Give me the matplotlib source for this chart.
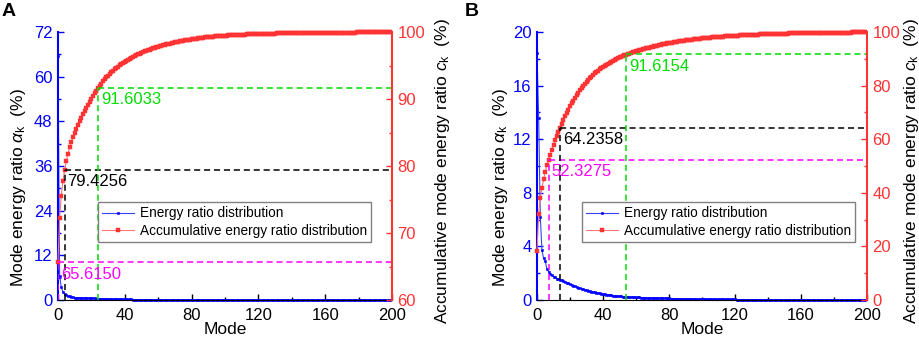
import numpy as np
import matplotlib
matplotlib.use('Agg')
import matplotlib.pyplot as plt
from matplotlib.ticker import MultipleLocator

plt.rcParams['font.family'] = ['Liberation Sans', 'DejaVu Sans']
plt.rcParams['mathtext.fontset'] = 'custom'
plt.rcParams['mathtext.rm'] = 'Liberation Sans'
plt.rcParams['mathtext.it'] = 'Liberation Sans:italic'

BLUE = '#0000FF'
RED = '#FF3333'

mode = np.arange(200)

# panel A: energy ratio of each mode (%)
ratio_a = [
    65.615, 6.585, 3.4, 2.2, 1.6256,
    1.3, 1.1, 0.95, 0.8, 0.72, 0.66,
    0.60, 0.57, 0.55, 0.53, 0.51, 0.49, 0.47, 0.46, 0.44, 0.43, 0.42, 0.41, 0.40, 0.3677,
    0.36, 0.34, 0.32, 0.30, 0.29, 0.27, 0.26, 0.24, 0.23, 0.22, 0.21, 0.20, 0.19, 0.18,
    0.175, 0.17, 0.16, 0.155, 0.15, 0.14, 0.135, 0.13, 0.125, 0.12,
    0.115, 0.11, 0.105, 0.10, 0.097, 0.094, 0.09, 0.087, 0.084, 0.08,
    0.078, 0.076, 0.074, 0.072, 0.07, 0.068, 0.066, 0.064, 0.062, 0.06,
    0.058, 0.056, 0.055, 0.053, 0.052, 0.05, 0.049, 0.047, 0.046, 0.045,
    0.043, 0.041, 0.039, 0.037, 0.036, 0.034, 0.033, 0.031, 0.030, 0.029,
    0.028, 0.027, 0.026, 0.025, 0.024, 0.023, 0.022, 0.021, 0.020, 0.019,
    0.019, 0.018, 0.017, 0.017, 0.016, 0.015, 0.015, 0.014, 0.014, 0.013,
    0.013, 0.012, 0.012, 0.011, 0.011, 0.011, 0.010, 0.010, 0.010, 0.009,
    0.0085, 0.0082, 0.0079, 0.0076, 0.0073, 0.007, 0.0068, 0.0066, 0.0064, 0.0062, 0.006,
    0.0058, 0.0056, 0.0054, 0.0052, 0.005, 0.0049, 0.0048, 0.0047, 0.0046, 0.0045, 0.0044,
    0.0043, 0.0042, 0.0041, 0.004, 0.0039, 0.0038, 0.0037, 0.0036, 0.0035, 0.0034,
    0.0033, 0.0032, 0.0031, 0.003, 0.003, 0.0029, 0.0028, 0.0028, 0.0027, 0.0026,
    0.0026, 0.0025, 0.0024, 0.0024, 0.0023, 0.0023, 0.0022, 0.0022, 0.0021, 0.0021,
    0.0019, 0.0018, 0.0018, 0.0017, 0.0017, 0.0016, 0.0016, 0.0016, 0.0015, 0.0015,
    0.0015, 0.0014, 0.0014, 0.0014, 0.0013, 0.0013, 0.0013, 0.0013, 0.0012, 0.0012,
    0.0012, 0.0012, 0.0011, 0.0011, 0.0011, 0.0011, 0.001, 0.001, 0.001,
]

# panel B: energy ratio of each mode (%)
ratio_b = [
    18.4, 13.6, 6.2, 3.7, 3.1, 2.9, 2.3, 2.1275,
    1.95, 1.85, 1.75, 1.7, 1.6, 1.55, 1.5083,
    1.500, 1.430, 1.362, 1.298, 1.237, 1.179, 1.124, 1.071, 1.021, 0.973,
    0.927, 0.883, 0.842, 0.802, 0.765, 0.729, 0.694, 0.662, 0.631, 0.601,
    0.573, 0.546, 0.520, 0.496, 0.472, 0.450, 0.429, 0.409, 0.390, 0.371,
    0.354, 0.337, 0.321, 0.306, 0.292, 0.278, 0.265, 0.253, 0.241, 0.229,
    0.230, 0.224, 0.218, 0.212, 0.206, 0.201, 0.195, 0.190, 0.185, 0.180,
    0.175, 0.170, 0.166, 0.161, 0.157, 0.153, 0.148, 0.144, 0.141, 0.137,
    0.133, 0.129, 0.126, 0.123, 0.119, 0.116, 0.113, 0.110, 0.107, 0.104,
    0.101, 0.098, 0.096, 0.093, 0.091, 0.088, 0.086, 0.084, 0.081, 0.079,
    0.077, 0.075, 0.073, 0.071, 0.069, 0.067, 0.065, 0.064, 0.062, 0.060,
    0.059, 0.057, 0.055, 0.054, 0.052, 0.051, 0.050, 0.048, 0.047, 0.046,
    0.045, 0.043, 0.042, 0.041, 0.040, 0.039, 0.038, 0.037, 0.036, 0.035,
    0.034, 0.033, 0.032, 0.031, 0.030, 0.030, 0.029, 0.028, 0.027, 0.027,
    0.026, 0.025, 0.024, 0.024, 0.023, 0.023, 0.022, 0.021, 0.021, 0.020,
    0.020, 0.019, 0.019, 0.018, 0.018, 0.017, 0.017, 0.016, 0.016, 0.015,
    0.015, 0.015, 0.014, 0.014, 0.013, 0.013, 0.013, 0.012, 0.012, 0.012,
    0.011, 0.011, 0.011, 0.010, 0.010, 0.010, 0.010, 0.009, 0.009, 0.009,
    0.009, 0.008, 0.008, 0.008, 0.008, 0.008, 0.007, 0.007, 0.007, 0.007,
    0.007, 0.006, 0.006, 0.006, 0.006, 0.006, 0.006, 0.005, 0.005, 0.005,
    0.005, 0.005, 0.005, 0.005, 0.005,
]

# marked modes and their accumulative ratios
marks_a = [0, 4, 24]
levels_a = [65.6150, 79.4256, 91.6033]
marks_b = [7, 14, 54]
levels_b = [52.3275, 64.2358, 91.6154]
mark_colors = ['#FF00FF', 'black', '#00DD00']


def draw_panel(ax, ratio, lim_l, step_l, lim_r, step_r, marks, levels, leg_x):
    cum = np.cumsum(ratio)
    ax2 = ax.twinx()
    l1, = ax.plot(mode, ratio, color='#3344FF', lw=0.8, marker='s', ms=2.0,
                  mfc=BLUE, mec=BLUE, mew=0.4, clip_on=False,
                  label='Energy ratio distribution')
    l2, = ax2.plot(mode, cum, color='#FF7777', lw=0.8, marker='s', ms=2.3,
                   mfc=RED, mec=RED, mew=0.3, clip_on=False,
                   label='Accumulative energy ratio distribution')

    for m, v, c in zip(marks, levels, mark_colors):
        ax2.plot([m, m], [lim_r[0], v], color=c, lw=1.1, dashes=(4, 2.5))
        ax2.plot([m, 200], [v, v], color=c, lw=1.1, dashes=(4, 2.5))
        ax2.annotate(f'{v:.4f}', xy=(m, v), xytext=(2, -3),
                     textcoords='offset points', ha='left', va='top',
                     color=c, fontsize=12)

    ax.set_xlim(0, 200)
    ax.set_ylim(*lim_l)
    ax2.set_ylim(*lim_r)
    ax.xaxis.set_major_locator(MultipleLocator(40))
    ax.xaxis.set_minor_locator(MultipleLocator(20))
    ax.yaxis.set_major_locator(MultipleLocator(step_l))
    ax.yaxis.set_minor_locator(MultipleLocator(step_l / 2))
    ax2.yaxis.set_major_locator(MultipleLocator(step_r))
    ax2.yaxis.set_minor_locator(MultipleLocator(step_r / 2))

    for s in ['top', 'right']:
        ax.spines[s].set_visible(False)
    for s in ['top', 'left', 'bottom']:
        ax2.spines[s].set_visible(False)
    ax.spines['left'].set_color(BLUE)
    ax.spines['left'].set_linewidth(1.5)
    ax2.spines['right'].set_color(RED)
    ax2.spines['right'].set_linewidth(1.5)

    ax.tick_params(axis='x', which='both', direction='in', labelsize=12, pad=6)
    ax.tick_params(axis='y', which='both', direction='in', colors=BLUE,
                   labelsize=12, pad=4)
    ax2.tick_params(axis='y', which='both', direction='in', colors=RED,
                    labelsize=12, pad=4)
    for a in (ax, ax2):
        a.tick_params(which='major', length=4, width=1)
        a.tick_params(which='minor', length=2.5, width=1)

    ax.set_xlabel('Mode', fontsize=12.5, labelpad=-1)
    ax.set_ylabel(r'Mode energy ratio $\mathit{\alpha}_{\mathrm{k}}$  (%)', fontsize=12.5)
    ax2.set_ylabel(r'Accumulative mode energy ratio $\mathit{c}_{\mathrm{k}}$  (%)', fontsize=12.5)

    leg = ax2.legend(handles=[l1, l2], loc='upper left', bbox_to_anchor=(leg_x, 0.365),
                     fontsize=9.8, frameon=True, fancybox=False, framealpha=1,
                     edgecolor='#808080', handlelength=2.4, borderpad=0.3,
                     labelspacing=0.25, handletextpad=0.4, borderaxespad=0)
    leg.get_frame().set_linewidth(1)
    return ax2


fig = plt.figure(figsize=(9.2, 3.4), dpi=100)
axA = fig.add_axes([0.063, 0.1176, 0.363, 0.7882])
axB = fig.add_axes([0.5837, 0.1176, 0.3587, 0.7882])

axA2 = draw_panel(axA, ratio_a, (0, 72), 12, (60, 100), 10, marks_a, levels_a, 0.119)
axB2 = draw_panel(axB, ratio_b, (0, 20), 4, (0, 100), 20, marks_b, levels_b, 0.135)

axA.yaxis.set_label_coords(-0.09, 0.42)
axA2.yaxis.set_label_coords(1.123, 0.48)
axB.yaxis.set_label_coords(-0.082, 0.42)
axB2.yaxis.set_label_coords(1.106, 0.48)

fig.text(0.002, 0.99, 'A', fontsize=14, fontweight='bold', va='top', ha='left')
fig.text(0.505, 0.99, 'B', fontsize=14, fontweight='bold', va='top', ha='left')

fig.savefig('out.png', dpi=100)
